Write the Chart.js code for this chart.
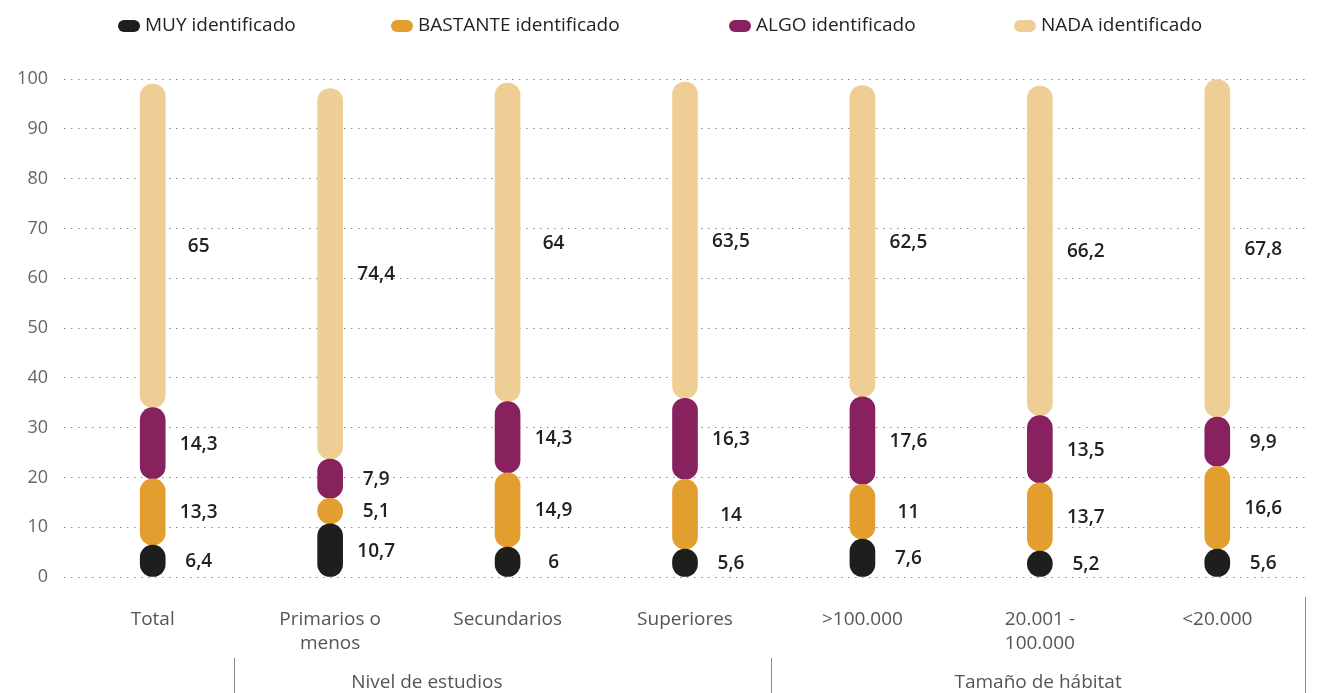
<!DOCTYPE html>
<html>
<head>
<meta charset="utf-8">
<script src="https://cdn.jsdelivr.net/npm/chart.js@4.4.1/dist/chart.umd.min.js"></script>
<style>
html,body{margin:0;padding:0;background:#fff;}
#wrap{position:relative;width:1320px;height:693px;}
</style>
</head>
<body>
<div id="wrap"><canvas id="c" width="1320" height="693"></canvas></div>
<script>
const categories = ['Total', ['Primarios o','menos'], 'Secundarios', 'Superiores', '>100.000', ['20.001 -','100.000'], '<20.000'];
const seriesNames = ['MUY identificado', 'BASTANTE identificado', 'ALGO identificado', 'NADA identificado'];
const muy      = [6.4, 10.7, 6, 5.6, 7.6, 5.2, 5.6];
const bastante = [13.3, 5.1, 14.9, 14, 11, 13.7, 16.6];
const algo     = [14.3, 7.9, 14.3, 16.3, 17.6, 13.5, 9.9];
const nada     = [65, 74.4, 64, 63.5, 62.5, 66.2, 67.8];
const groups = [
  {label: 'Nivel de estudios', center: 1.545},
  {label: 'Tamaño de hábitat', center: 4.99}
];
const yTicks = [0,10,20,30,40,50,60,70,80,90,100];

const colors = ['#1e1e1c', '#e39e30', '#87225f', '#efce95'];
const FONT = '"Open Sans", Lato, sans-serif';

const dataSets = [muy, bastante, algo, nada].map((d, i) => ({
  label: seriesNames[i],
  data: d,
  backgroundColor: colors[i],
  borderWidth: 0,
  borderSkipped: false,
  borderRadius: {topLeft: 13, topRight: 13, bottomLeft: 13, bottomRight: 13},
  barThickness: 25
}));

function fmt(v){ return String(v).replace('.', ','); }

const overlay = {
  id: 'overlay',
  afterDatasetsDraw(chart) {
    const ctx = chart.ctx;
    ctx.save();
    ctx.font = '600 19px ' + FONT;
    ctx.fillStyle = '#222';
    ctx.textAlign = 'center';
    ctx.textBaseline = 'middle';
    chart.data.datasets.forEach((ds, di) => {
      const meta = chart.getDatasetMeta(di);
      meta.data.forEach((bar, i) => {
        const y = (bar.y + bar.base) / 2;
        ctx.fillText(fmt(ds.data[i]), bar.x + 46, y + 1);
      });
    });
    ctx.restore();
  },
  afterDraw(chart) {
    const ctx = chart.ctx;
    const xs = chart.scales.x;
    const px = v => {
      const i = Math.floor(v), f = v - i;
      const a = xs.getPixelForTick(Math.min(i, categories.length - 1));
      const step = xs.getPixelForTick(1) - xs.getPixelForTick(0);
      return a + f * step;
    };
    ctx.save();
    ctx.strokeStyle = '#8a8a8a';
    ctx.lineWidth = 1;
    const seps = [[0.457, 658], [3.486, 658], [6.497, 597]];
    seps.forEach(([v, top]) => {
      const x = Math.round(px(v)) + 0.5;
      ctx.beginPath(); ctx.moveTo(x, top); ctx.lineTo(x, 693); ctx.stroke();
    });
    ctx.font = '19px ' + FONT;
    ctx.fillStyle = '#555';
    ctx.textAlign = 'center';
    ctx.textBaseline = 'middle';
    groups.forEach(g => ctx.fillText(g.label, px(g.center), 683));
    const legendX = [129, 402, 740, 1025];
    ctx.font = '19px ' + FONT;
    ctx.textAlign = 'left';
    chart.data.datasets.forEach((ds, i) => {
      const x = legendX[i], y = 26;
      ctx.fillStyle = ds.backgroundColor;
      ctx.beginPath();
      ctx.roundRect(x - 11, y - 6, 22, 12, 6);
      ctx.fill();
      ctx.fillStyle = '#222';
      ctx.fillText(ds.label, x + 16, y);
    });
    ctx.restore();
  }
};

new Chart(document.getElementById('c'), {
  type: 'bar',
  data: { labels: categories, datasets: dataSets },
  options: {
    responsive: false,
    animation: false,
    layout: { padding: { top: 79, right: 14, left: 0, bottom: 0 } },
    plugins: { legend: { display: false }, tooltip: { enabled: false } },
    scales: {
      x: {
        stacked: true,
        grid: { display: false, drawTicks: false },
        border: { display: false },
        ticks: { color: '#555', font: { family: FONT, size: 19, lineHeight: 1.26 }, padding: 31, maxRotation: 0, autoSkip: false },
        afterFit(s) { s.height = 116; }
      },
      y: {
        stacked: true,
        min: 0, max: 100,
        afterBuildTicks(s) { s.ticks = yTicks.map(v => ({ value: v })); },
        grid: { color: '#8a8a8a', lineWidth: 1, drawTicks: false },
        border: { display: false, dash: [1.5, 5.5] },
        ticks: { color: '#666', font: { family: FONT, size: 18 }, padding: 16 },
        afterFit(s) { s.width = 64; }
      }
    }
  },
  plugins: [overlay]
});
</script>
</body>
</html>
